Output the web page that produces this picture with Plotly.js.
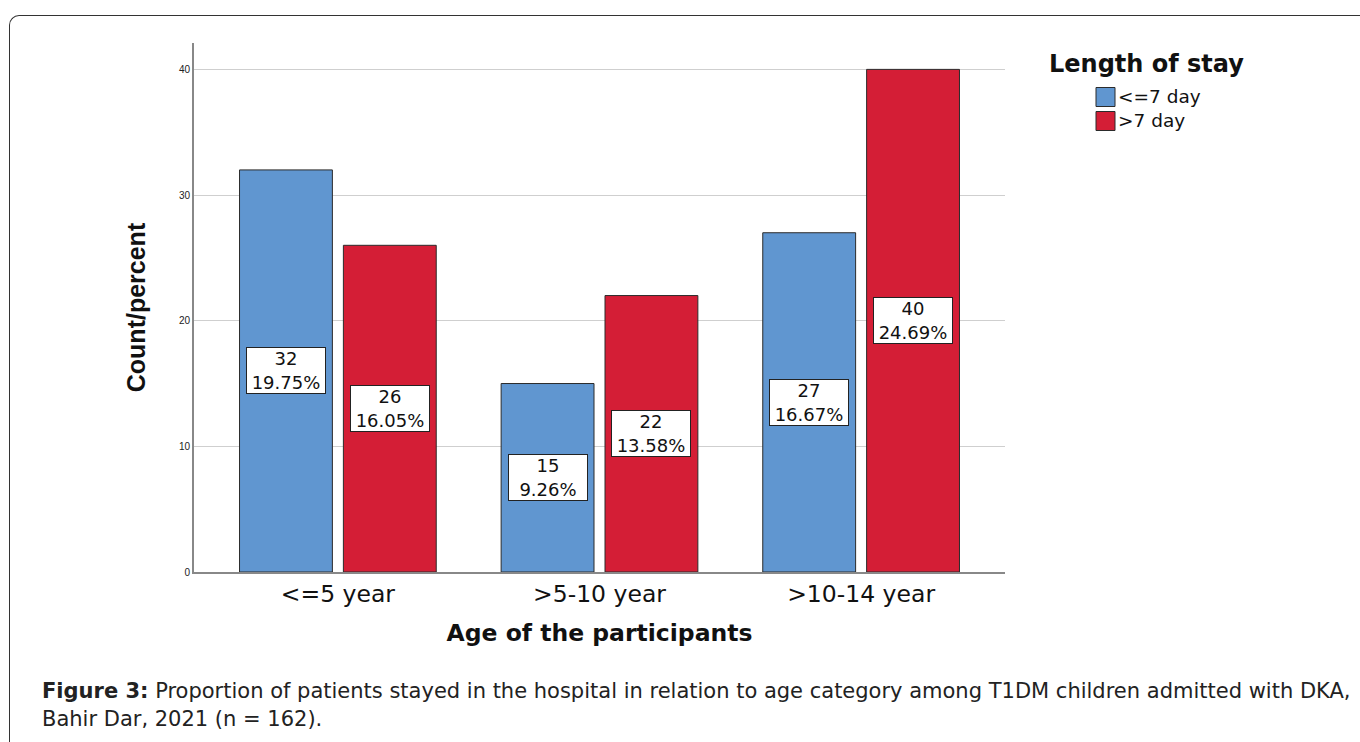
<!DOCTYPE html>
<html>
<head>
<meta charset="utf-8">
<script src="https://cdn.plot.ly/plotly-3.0.1.min.js"></script>
<style>
html,body{margin:0;padding:0;background:#fff;}
#wrap{position:relative;width:1360px;height:742px;overflow:hidden;}
#chart{position:absolute;left:0;top:0;width:1360px;height:742px;}
#frame{position:absolute;left:9px;top:15px;width:1400px;height:800px;border-left:1.5px solid #333;border-top:1.5px solid #333;border-top-left-radius:10px;pointer-events:none;}
</style>
</head>
<body>
<div id="wrap"><div id="chart"></div><div id="frame"></div></div>
<script>
const categories = ["<=5 year", ">5-10 year", ">10-14 year"];
const seriesNames = ["<=7 day", ">7 day"];
const shortStay = [32, 15, 27];
const longStay = [26, 22, 40];
const shortPct = ["19.75%", "9.26%", "16.67%"];
const longPct = ["16.05%", "13.58%", "24.69%"];
const yTicks = [0, 10, 20, 30, 40];
const legendTitle = "Length of stay";
const captionLines = [
  "<b>Figure 3:</b> Proportion of patients stayed in the hospital in relation to age category among T1DM children admitted with DKA,",
  "Bahir Dar, 2021 (n = 162)."
];

const colors = ["#6096d0", "#d41e36"];
const idx = categories.map((c, i) => i);
const WIDE = "DejaVu Sans, Arial, sans-serif";
const ARIAL = "Arial, Liberation Sans, sans-serif";

// pixel -> paper helpers (plot area: x 194..1005, y 43..572)
const px = x => (x - 194) / 811;
const py = y => (572 - y) / 529;

const traces = [
  {type: "bar", name: seriesNames[0], x: idx, y: shortStay, showlegend: false,
   marker: {color: colors[0], line: {color: "#2b2b2b", width: 1}}, hoverinfo: "y"},
  {type: "bar", name: seriesNames[1], x: idx, y: longStay, showlegend: false,
   marker: {color: colors[1], line: {color: "#2b2b2b", width: 1}}, hoverinfo: "y"}
];

const off = 0.198;
const annotations = [];
function boxLabel(x, v, pct) {
  annotations.push({x: x, y: v / 2, xref: "x", yref: "y", text: v + "<br>" + pct,
    showarrow: false, bgcolor: "#ffffff", bordercolor: "#222", borderwidth: 1, borderpad: 0,
    width: 78, height: 45,
    font: {family: WIDE, size: 18, color: "#111"}, align: "center", valign: "middle"});
}
idx.forEach(i => { boxLabel(i - off, shortStay[i], shortPct[i]); boxLabel(i + off, longStay[i], longPct[i]); });

// caption
captionLines.forEach((t, k) => {
  annotations.push({xref: "paper", yref: "paper", x: px(40), y: py(691 + 28 * k), xanchor: "left", yanchor: "middle",
    showarrow: false, align: "left", text: t,
    font: {family: WIDE, size: 21, color: "#222"}});
});

// legend (custom, drawn in paper space)
const shapes = [];
annotations.push({xref: "paper", yref: "paper", x: px(1146), y: py(64), xanchor: "center", yanchor: "middle",
  showarrow: false, text: "<b>" + legendTitle + "</b>", font: {family: WIDE, size: 24, color: "#111"}});
seriesNames.forEach((n, k) => {
  const cy = 97 + 24 * k;
  shapes.push({type: "rect", xref: "paper", yref: "paper", x0: px(1096), x1: px(1115), y0: py(cy - 9.5), y1: py(cy + 9.5),
    fillcolor: colors[k], line: {color: "#2b2b2b", width: 1}});
  annotations.push({xref: "paper", yref: "paper", x: px(1116), y: py(cy), xanchor: "left", yanchor: "middle",
    showarrow: false, text: n, font: {family: WIDE, size: 18.5, color: "#111"}});
});

const layout = {
  width: 1360, height: 742,
  margin: {l: 194, r: 355, t: 43, b: 170},
  paper_bgcolor: "#fff", plot_bgcolor: "#fff",
  barmode: "group", bargap: 0.206, bargroupgap: 0.106,
  font: {family: ARIAL, color: "#111"},
  xaxis: {
    range: [-0.55, 2.55], tickmode: "array", tickvals: idx, ticktext: categories,
    tickfont: {family: WIDE, size: 23.5, color: "#111"}, ticks: "", showgrid: false,
    showline: true, linecolor: "#888", linewidth: 2, zeroline: false,
    title: {text: "<b>Age of the participants</b>", font: {family: WIDE, size: 23.5, color: "#111"}, standoff: 17}
  },
  yaxis: {
    range: [0, 42.1], tickvals: yTicks, ticktext: yTicks.map(String),
    tickfont: {size: 10, color: "#222"}, ticks: "",
    showgrid: true, gridcolor: "#cfcfcf", gridwidth: 1,
    showline: true, linecolor: "#888", linewidth: 2, zeroline: false,
    title: {text: "<b>Count/percent</b>", font: {family: ARIAL, size: 25, color: "#111"}, standoff: 26}
  },
  showlegend: false,
  shapes: shapes,
  annotations: annotations
};

Plotly.newPlot("chart", traces, layout, {displayModeBar: false, staticPlot: true});
</script>
</body>
</html>
